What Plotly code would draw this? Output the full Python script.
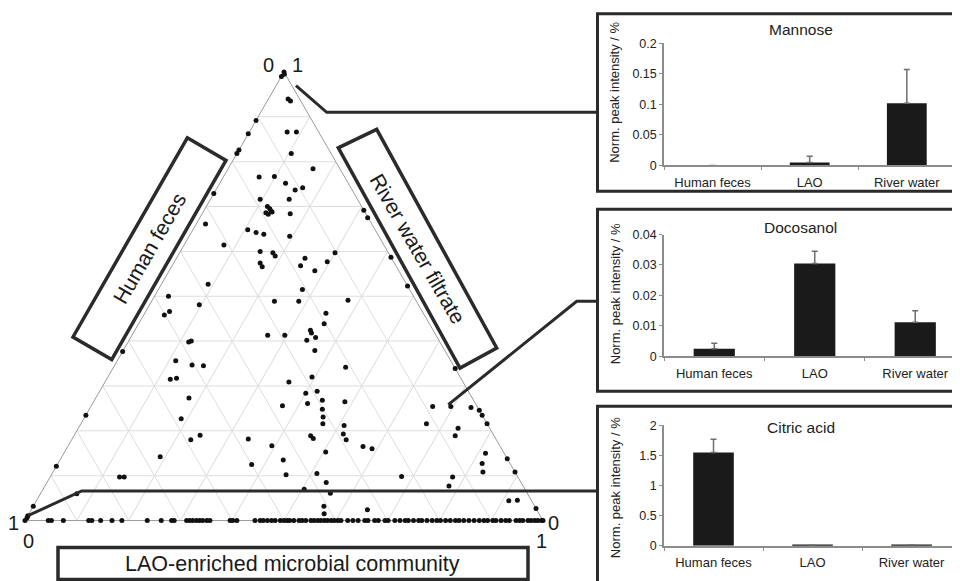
import plotly.graph_objects as go

W, H = 960, 581

# ---------------- ternary data (a = River water filtrate, c = LAO-enriched community; b = Human feces = rest) ----
river = [1.0, 0.99, 0.995, 0.94, 0.935, 0.914, 0.892, 0.862, 0.866, 0.866, 0.826, 0.818, 0.818,
         0.784, 0.792, 0.766, 0.767, 0.752, 0.737, 0.742, 0.729, 0.716, 0.716,
         0.70, 0.695, 0.69, 0.686, 0.683, 0.688, 0.684, 0.692, 0.675, 0.661,
         0.648, 0.642, 0.638, 0.634, 0.614, 0.600, 0.597, 0.590, 0.574, 0.566, 0.597,
         0.585, 0.568, 0.577, 0.557, 0.587, 0.527, 0.50, 0.515, 0.523, 0.489, 0.489,
         0.481, 0.491, 0.466, 0.458, 0.462, 0.439, 0.447, 0.424, 0.418, 0.408, 0.402,
         0.413, 0.413, 0.379, 0.40, 0.398, 0.377, 0.356, 0.347, 0.345, 0.342, 0.339,
         0.314, 0.315, 0.317, 0.32, 0.309, 0.284, 0.288, 0.261, 0.268, 0.248, 0.231, 0.216,
         0.273, 0.256, 0.265, 0.254, 0.254, 0.252, 0.246, 0.235, 0.216, 0.235, 0.227,
         0.212, 0.216, 0.206, 0.189, 0.183, 0.19, 0.18, 0.182, 0.193, 0.18, 0.189,
         0.167, 0.165, 0.16, 0.153, 0.142, 0.15, 0.138, 0.125, 0.135, 0.127, 0.108,
         0.121, 0.102, 0.105, 0.097, 0.097, 0.098, 0.097, 0.108, 0.085, 0.077, 0.07,
         0.061, 0.044, 0.045, 0.032, 0.024, 0.015, 0.027, 0.032, 0.011, 0.06, 0.006]
lao = [0.0, 0.0, 0.003, 0.038, 0.045, 0.086, 0.0, 0.0, 0.073, 0.091, 0.0, 0.0, 0.105,
       0.164, 0.208, 0.069, 0.098, 0.127, 0.153, 0.165, 0.0, 0.096, 0.152,
       0.118, 0.125, 0.13, 0.122, 0.128, 0.133, 0.17, 0.308, 0.324, 0.018,
       0.106, 0.125, 0.142, 0.194, 0.077, 0.154, 0.18, 0.188, 0.167, 0.175, 0.30,
       0.248, 0.248, 0.295, 0.281, 0.413, 0.09, 0.027, 0.278, 0.477, 0.237, 0.284,
       0.096, 0.378, 0.046, 0.04, 0.35, 0.358, 0.553, 0.339, 0.344, 0.357, 0.343,
       0.262, 0.295, 0.37, 0.121, 0.117, 0.0, 0.113, 0.149, 0.172, 0.448, 0.661,
       0.686, 0.123, 0.134, 0.394, 0.355, 0.40, 0.42, 0.415, 0.44, 0.45, 0.46, 0.467,
       0.18, 0.369, 0.485, 0.695, 0.66, 0.735, 0.754, 0.765, 0.784, 0.0, 0.188,
       0.51, 0.667, 0.733, 0.457, 0.465, 0.243, 0.23, 0.34, 0.518, 0.53, 0.736,
       0.393, 0.57, 0.59, 0.504, 0.19, 0.814, 0.862, 0.375, 0.431, 0.819, 0.83,
       0.0, 0.453, 0.511, 0.134, 0.143, 0.678, 0.777, 0.892, 0.539, 0.78, 0.504,
       0.559, 0.912, 0.928, 0.561, 0.649, 0.57, 0.973, 0.0, 0.0, 0.07, 0.001]
# points lying on the LAO / Human feces edge (river = 0)
base_lao = [0.0, 0.045, 0.051, 0.074, 0.123, 0.129, 0.146, 0.168, 0.187, 0.236, 0.263, 0.283, 0.288,
            0.312, 0.318, 0.324, 0.331, 0.337, 0.343, 0.351, 0.357, 0.396, 0.401, 0.409, 0.444,
            0.454, 0.460, 0.468, 0.476, 0.483, 0.493, 0.500, 0.506, 0.511, 0.519, 0.529, 0.535,
            0.542, 0.552, 0.558, 0.565, 0.571, 0.578, 0.584, 0.591, 0.597, 0.604, 0.610, 0.623,
            0.633, 0.643, 0.656, 0.662, 0.675, 0.682, 0.695, 0.701, 0.714, 0.724, 0.734, 0.740,
            0.750, 0.760, 0.766, 0.776, 0.786, 0.795, 0.802, 0.812, 0.821, 0.831, 0.838, 0.847,
            0.857, 0.867, 0.877, 0.886, 0.893, 0.903, 0.909, 0.919, 0.928, 0.935, 0.948, 0.955,
            0.961, 0.971, 0.977, 0.984, 0.990, 0.997, 1.0]
base_river = [0.0] * len(base_lao)

# ---------------- bar chart data ----------------
categories = ["Human feces", "LAO", "River water"]
mannose = [0.0, 0.005, 0.102]
mannose_err = [None, 0.010, 0.055]
docosanol = [0.0025, 0.0305, 0.0112]
docosanol_err = [0.0018, 0.0040, 0.0038]
citric = [1.55, 0.008, 0.015]
citric_err = [0.22, None, None]

FONT = "Liberation Sans, Arial, sans-serif"
DARK = "#2b2b2b"

# mapping from target-picture pixels to paper fractions (page offset / effective plot height)
OX, OY, EH = 8.0, 14.0, 0.975 * H


def px(x, y):
    return (x - OX) / W, 1 - (y - OY) / EH


fig = go.Figure()

fig.add_trace(go.Scatterternary(
    a=river + base_river, c=lao + base_lao, mode="markers",
    marker=dict(size=5, color="#111111", line=dict(width=0)), showlegend=False,
    cliponaxis=False))

tern_ax = dict(showticklabels=False, ticks="", tick0=0, dtick=0.1, showgrid=True,
               gridcolor="#dedede", gridwidth=1, showline=True, linecolor="#9a9a9a",
               linewidth=1, title=dict(text=""), min=0, layer="below traces")
tx0, ty0 = px(25, 522)
tx1, ty1 = px(543, 68)
fig.update_layout(ternary=dict(domain=dict(x=[tx0, tx1], y=[ty0, ty1]), sum=1, bgcolor="white",
                               aaxis=tern_ax, baxis=tern_ax, caxis=tern_ax))

panels = [
    (mannose, mannose_err, [0, 0.2], [0, 0.05, 0.1, 0.15, 0.2], 164.3, 42.3, 2.63),
    (docosanol, docosanol_err, [0, 0.04], [0, 0.01, 0.02, 0.03, 0.04], 355.0, 233.3, 2.525),
    (citric, citric_err, [0, 2], [0, 0.5, 1, 1.5, 2], 544.3, 424.0, 2.57),
]
shapes = []
annotations = []
for i, (vals, errs, yr, tv, ybot, ytop, xmax) in enumerate(panels):
    n = "" if i == 0 else str(i + 1)
    fig.add_trace(go.Bar(
        x=categories, y=vals, width=0.41, marker=dict(color="#1a1a1a", line=dict(width=0)),
        error_y=dict(type="data", array=errs, arrayminus=[0, 0, 0], symmetric=False,
                     color="#6e6e6e", thickness=1.5, width=3),
        xaxis="x" + n, yaxis="y" + n, showlegend=False))
    xd0, yd0 = px(664, ybot)
    xd1, yd1 = px(968, ytop)
    fig.update_layout(**{
        "xaxis" + n: dict(domain=[xd0, 1.0], anchor="y" + n, type="category",
                          categoryorder="array", categoryarray=categories,
                          range=[-0.5, xmax], showline=True, linecolor="#8c8c8c", linewidth=1.5,
                          ticks="outside", tickson="boundaries", ticklen=3, tickcolor="#8c8c8c",
                          tickfont=dict(size=13, color="#222", family=FONT), showgrid=False,
                          zeroline=False, ticklabelstandoff=4, fixedrange=True),
        "yaxis" + n: dict(domain=[yd0, yd1], anchor="x" + n, range=yr, tickvals=tv,
                          showline=True, linecolor="#8c8c8c", linewidth=1.5, ticks="outside",
                          ticklen=3, tickcolor="#8c8c8c",
                          tickfont=dict(size=12.5, color="#222", family=FONT),
                          showgrid=False, zeroline=False, fixedrange=True),
    })


def note(text, x, y, size, ang=0, color="#222"):
    ax, ay = px(x, y)
    annotations.append(dict(text=text, x=ax, y=ay, xref="paper", yref="paper", showarrow=False,
                            xanchor="center", yanchor="middle", textangle=ang,
                            font=dict(size=size, color=color, family=FONT)))


# titles and y-axis titles of the bar panels
for title, tx, ty, yt in [("Mannose", 800.7, 28, 91.7), ("Docosanol", 800.7, 226.7, 293),
                          ("Citric acid", 800.7, 426, 486.7)]:
    note(title, tx, ty, 15.5)
    note("Norm. peak intensity / %", 615, yt, 13, -90)

# panel boxes
for (top, bot) in [(12.7, 190), (208, 390), (405, 596)]:
    ax0, ay0 = px(597.5, top)
    ax1, ay1 = px(975, bot)
    shapes.append(dict(type="rect", xref="paper", yref="paper", x0=ax0, y0=ay1, x1=ax1, y1=ay0,
                       line=dict(color=DARK, width=3), fillcolor="rgba(0,0,0,0)", layer="above"))


def path(pts, close=False):
    s = ""
    for k, (x, y) in enumerate(pts):
        X, Y = px(x, y)
        s += ("M" if k == 0 else " L") + f"{X:.5f},{Y:.5f}"
    return s + (" Z" if close else "")


# callout lines
for pts in [[(296, 84.5), (326.7, 111.2), (597.5, 111.2)],
            [(448.3, 403.3), (576.7, 300), (597.5, 300)],
            [(28.5, 514), (81.7, 489.5), (597.5, 489.5)]]:
    shapes.append(dict(type="path", xref="paper", yref="paper", path=path(pts),
                       line=dict(color=DARK, width=3), layer="above"))

# label boxes
for pts in [[(187.3, 136.7), (226, 159.3), (111.7, 358.3), (73, 335.7)],
            [(376.7, 128.3), (496.7, 346.7), (460, 366.7), (338.3, 146.7)],
            [(58, 546), (528, 546), (528, 578), (58, 578)]]:
    shapes.append(dict(type="path", xref="paper", yref="paper", path=path(pts, True),
                       line=dict(color=DARK, width=3.5), fillcolor="white", layer="above"))

note("Human feces", 149.5, 247.5, 21, -60, "#1a1a1a")
note("River water filtrate", 417.5, 247.5, 21, 60, "#1a1a1a")
note("LAO-enriched microbial community", 292.5, 562, 21.5, 0, "#1a1a1a")

# corner values of the ternary axes
for text, x, y in [("0", 268.3, 63.5), ("1", 297, 63.5), ("1", 13.3, 521.5), ("0", 28.3, 539.5),
                   ("0", 553.5, 521.5), ("1", 541.7, 539.5)]:
    note(text, x, y, 20, 0, "#1a1a1a")

fig.update_layout(width=W, height=H, margin=dict(l=0, r=0, t=0, b=0), paper_bgcolor="white",
                  plot_bgcolor="rgba(0,0,0,0)", shapes=shapes, annotations=annotations,
                  font=dict(family=FONT, color="#222"), showlegend=False)

fig.write_html("out.html")
